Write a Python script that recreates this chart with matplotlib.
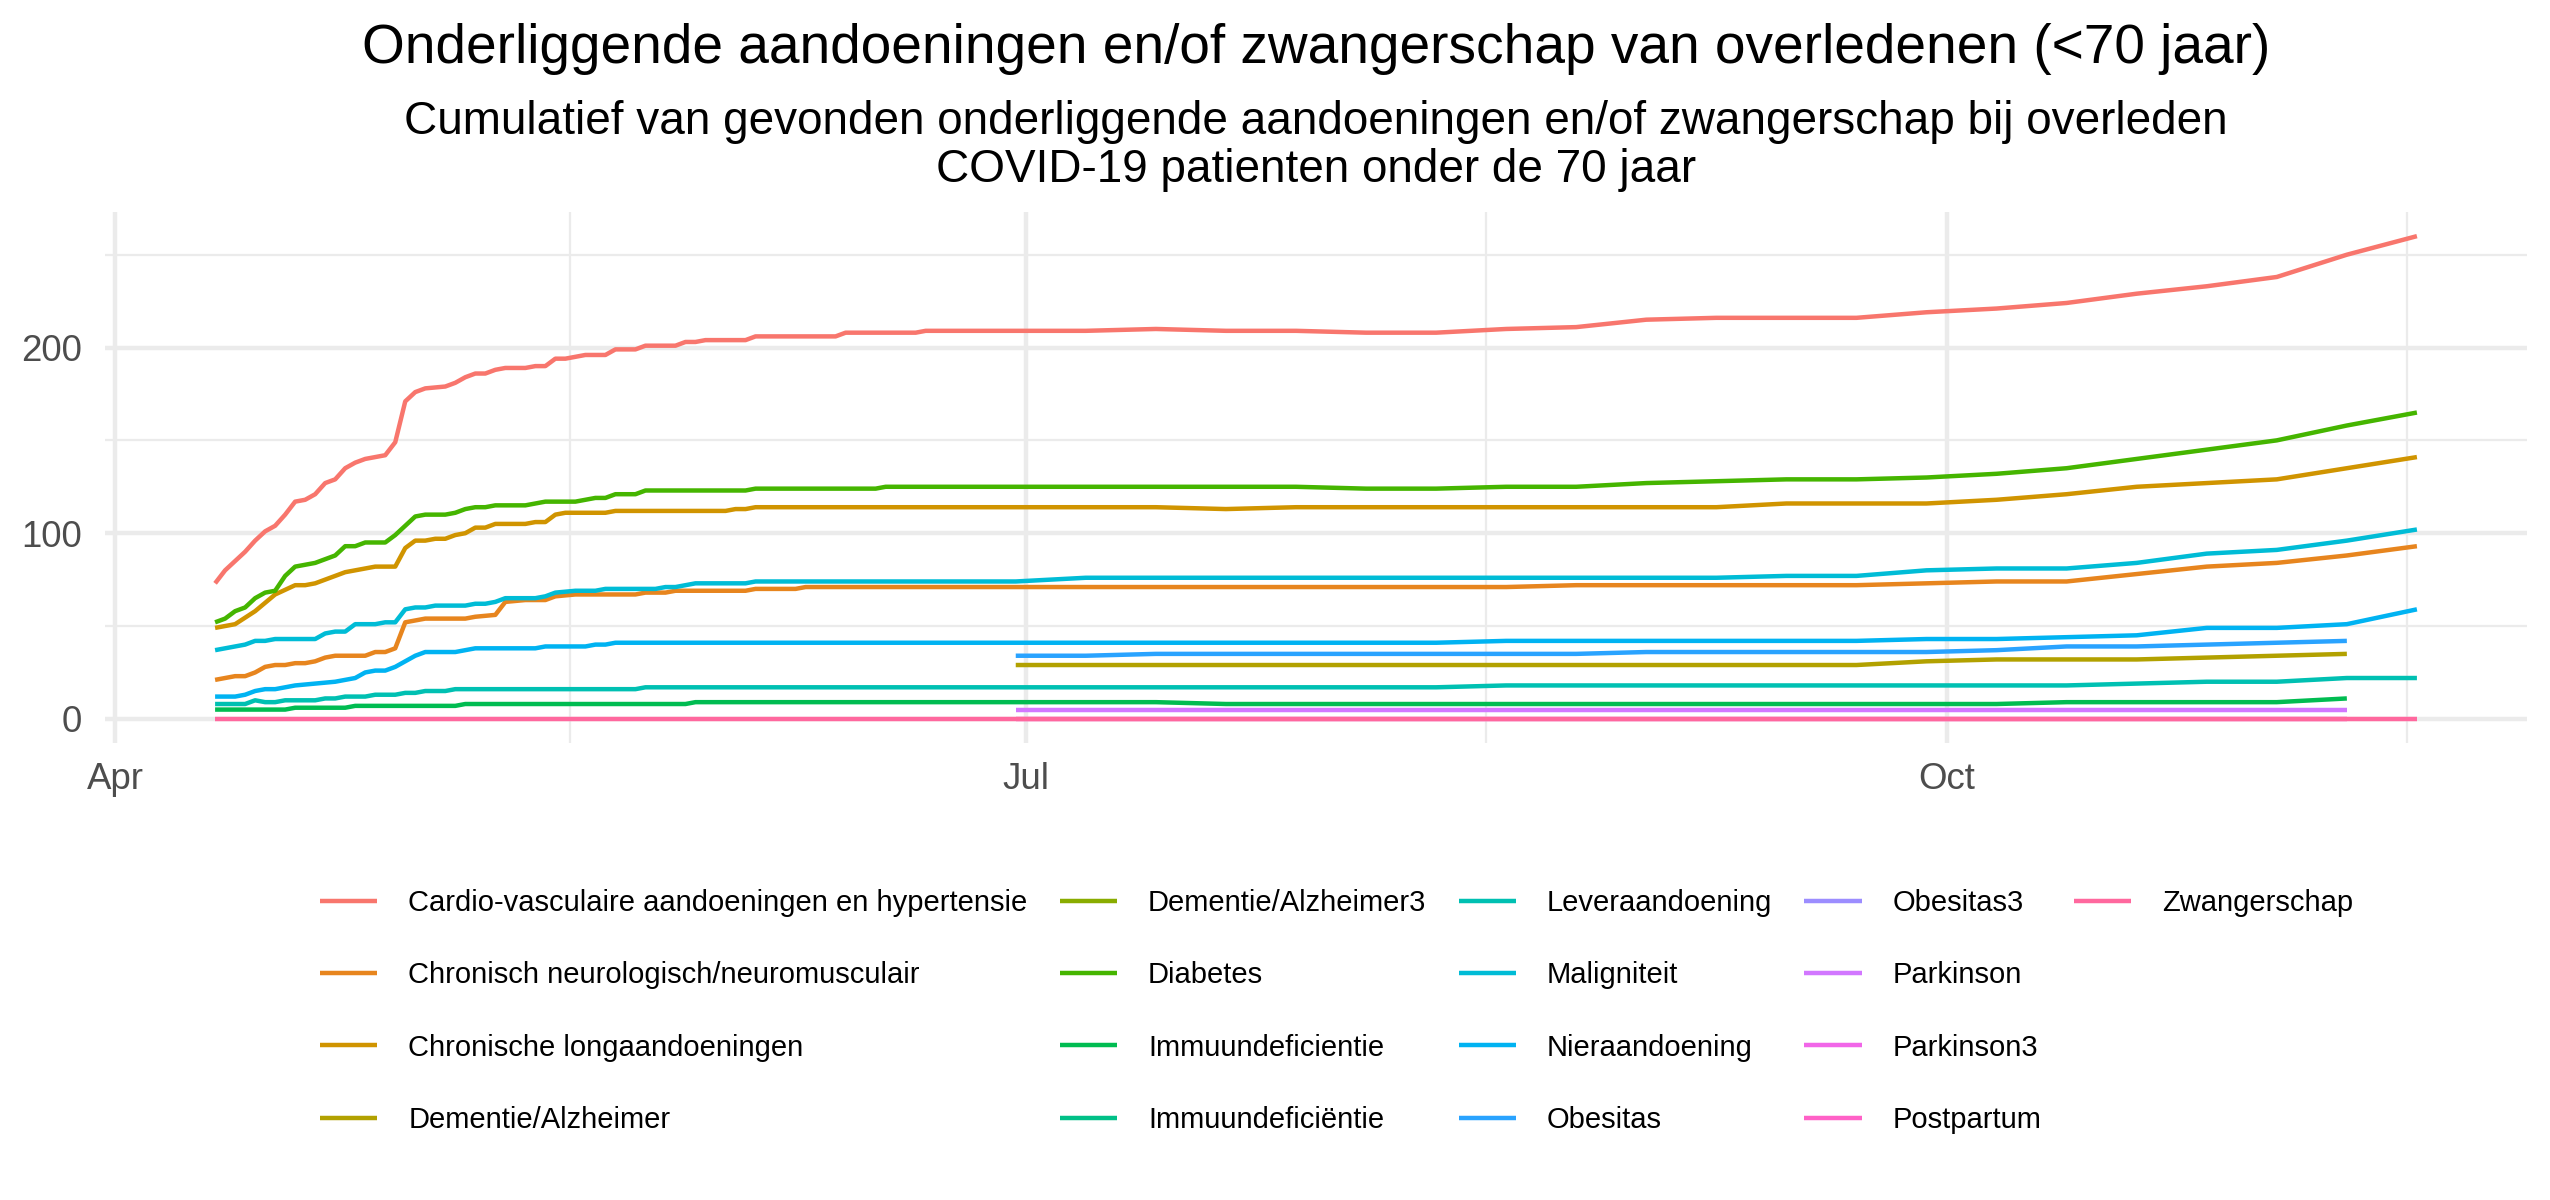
import numpy as np
import matplotlib
matplotlib.use("Agg")
import matplotlib.pyplot as plt
import matplotlib.dates as mdates
from matplotlib.lines import Line2D

plt.rcParams["font.family"] = ["Liberation Sans", "DejaVu Sans"]

TITLE = "Onderliggende aandoeningen en/of zwangerschap van overledenen (<70 jaar)"
SUBTITLE = ("Cumulatief van gevonden onderliggende aandoeningen en/of zwangerschap bij overleden\n"
            "COVID-19 patienten onder de 70 jaar")

# x values are days counted from 1 April 2020, y values cumulative counts
START = np.datetime64("2020-04-01")

cardio_days = [10, 11, 13, 14, 15, 16, 17, 18, 19, 20, 21, 22, 23, 24, 25, 27, 28, 29, 30, 31,
               33, 34, 35, 36, 37, 38, 39, 41, 42, 43, 44, 45, 47, 49, 50, 52, 53, 56, 57, 58,
               59, 63, 64, 72, 73, 77, 80, 81, 90, 97, 104, 111, 118, 125, 132, 139, 146, 153,
               160, 167, 174, 181, 188, 195, 202, 209, 216, 223, 230]
cardio_vals = [73, 80, 90, 96, 101, 104, 110, 117, 118, 121, 127, 129, 135, 138, 140, 142, 149, 171, 176, 178,
               179, 181, 184, 186, 186, 188, 189, 189, 190, 190, 194, 194, 196, 196, 199, 199, 201, 201, 203, 203,
               204, 204, 206, 206, 208, 208, 208, 209, 209, 209, 210, 209, 209, 208, 208, 210, 211, 215,
               216, 216, 216, 219, 221, 224, 229, 233, 238, 250, 260]

neuro_days = [10, 12, 13, 14, 15, 16, 17, 18, 19, 20, 21, 22, 25, 26, 27, 28, 29, 31, 35, 36,
              38, 39, 41, 43, 44, 46, 52, 53, 55, 56, 63, 64, 68, 69, 139, 146, 174, 181, 188, 195,
              202, 209, 216, 223, 230]
neuro_vals = [21, 23, 23, 25, 28, 29, 29, 30, 30, 31, 33, 34, 34, 36, 36, 38, 52, 54, 54, 55,
              56, 63, 64, 64, 66, 67, 67, 68, 68, 69, 69, 70, 70, 71, 71, 72, 72, 73, 74, 74,
              78, 82, 84, 88, 93]

long_days = [10, 12, 14, 16, 18, 19, 20, 22, 23, 24, 26, 28, 29, 30, 31, 32, 33, 34, 35, 36,
             37, 38, 41, 42, 43, 44, 45, 49, 50, 61, 62, 63, 64, 104, 111, 118, 160, 167, 181, 188,
             195, 202, 209, 216, 223, 230]
long_vals = [49, 51, 58, 67, 72, 72, 73, 77, 79, 80, 82, 82, 92, 96, 96, 97, 97, 99, 100, 103,
             103, 105, 105, 106, 106, 110, 111, 111, 112, 112, 113, 113, 114, 114, 113, 114, 114, 116, 116, 118,
             121, 125, 127, 129, 135, 141]

dementie_days = [90, 174, 181, 188, 202, 209, 216, 223]
dementie_vals = [29, 29, 31, 32, 32, 33, 34, 35]

dementie3_days = [230]
dementie3_vals = [36]

diabetes_days = [10, 11, 12, 13, 14, 15, 16, 17, 18, 20, 22, 23, 24, 25, 27, 28, 30, 31, 33, 34,
                 35, 36, 37, 38, 41, 43, 46, 47, 48, 49, 50, 52, 53, 63, 64, 76, 77, 90, 97, 104,
                 111, 118, 125, 132, 139, 146, 153, 160, 167, 174, 181, 188, 195, 202, 209, 216, 223, 230]
diabetes_vals = [52, 54, 58, 60, 65, 68, 69, 77, 82, 84, 88, 93, 93, 95, 95, 99, 109, 110, 110, 111,
                 113, 114, 114, 115, 115, 117, 117, 118, 119, 119, 121, 121, 123, 123, 124, 124, 125, 125, 125, 125,
                 125, 125, 124, 124, 125, 125, 127, 128, 129, 129, 130, 132, 135, 140, 145, 150, 158, 165]

immuun_days = [10, 17, 18, 23, 24, 34, 35, 57, 58, 104, 111, 188, 195, 216, 223]
immuun_vals = [5, 5, 6, 6, 7, 7, 8, 8, 9, 9, 8, 8, 9, 9, 11]

immuun2_days = [230]
immuun2_vals = [11]

lever_days = [10, 13, 14, 15, 16, 17, 20, 21, 22, 23, 25, 26, 28, 29, 30, 31, 33, 34, 52, 53,
              132, 139, 195, 202, 209, 216, 223, 230]
lever_vals = [8, 8, 10, 9, 9, 10, 10, 11, 11, 12, 12, 13, 13, 14, 14, 15, 15, 16, 16, 17,
              17, 18, 18, 19, 20, 20, 22, 22]

malig_days = [10, 13, 14, 15, 16, 20, 21, 22, 23, 24, 26, 27, 28, 29, 30, 31, 32, 35, 36, 37,
              38, 39, 42, 43, 44, 46, 48, 49, 54, 55, 56, 58, 63, 64, 90, 97, 160, 167, 174, 181,
              188, 195, 202, 209, 216, 223, 230]
malig_vals = [37, 40, 42, 42, 43, 43, 46, 47, 47, 51, 51, 52, 52, 59, 60, 60, 61, 61, 62, 62,
              63, 65, 65, 66, 68, 69, 69, 70, 70, 71, 71, 73, 73, 74, 74, 76, 76, 77, 77, 80,
              81, 81, 84, 89, 91, 96, 102]

nier_days = [10, 12, 13, 14, 15, 16, 17, 18, 20, 22, 23, 24, 25, 26, 27, 28, 29, 30, 31, 34,
             36, 42, 43, 47, 48, 49, 50, 132, 139, 174, 181, 188, 195, 202, 209, 216, 223, 230]
nier_vals = [12, 12, 13, 15, 16, 16, 17, 18, 19, 20, 21, 22, 25, 26, 26, 28, 31, 34, 36, 36,
             38, 38, 39, 39, 40, 40, 41, 41, 42, 42, 43, 43, 44, 45, 49, 49, 51, 59]

obesitas_days = [90, 97, 104, 146, 153, 181, 188, 195, 202, 209, 216, 223]
obesitas_vals = [34, 34, 35, 35, 36, 36, 37, 39, 39, 40, 41, 42]

obesitas3_days = [230]
obesitas3_vals = [43]

parkinson_days = [90, 223]
parkinson_vals = [5, 5]

parkinson3_days = [230]
parkinson3_vals = [5]

postpartum_days = [90, 223]
postpartum_vals = [0, 0]

zwanger_days = [10, 230]
zwanger_vals = [0, 0]

SERIES = [
    ("Cardio-vasculaire aandoeningen en hypertensie", cardio_days, cardio_vals),
    ("Chronisch neurologisch/neuromusculair", neuro_days, neuro_vals),
    ("Chronische longaandoeningen", long_days, long_vals),
    ("Dementie/Alzheimer", dementie_days, dementie_vals),
    ("Dementie/Alzheimer3", dementie3_days, dementie3_vals),
    ("Diabetes", diabetes_days, diabetes_vals),
    ("Immuundeficientie", immuun_days, immuun_vals),
    ("Immuundeficiëntie", immuun2_days, immuun2_vals),
    ("Leveraandoening", lever_days, lever_vals),
    ("Maligniteit", malig_days, malig_vals),
    ("Nieraandoening", nier_days, nier_vals),
    ("Obesitas", obesitas_days, obesitas_vals),
    ("Obesitas3", obesitas3_days, obesitas3_vals),
    ("Parkinson", parkinson_days, parkinson_vals),
    ("Parkinson3", parkinson3_days, parkinson3_vals),
    ("Postpartum", postpartum_days, postpartum_vals),
    ("Zwangerschap", zwanger_days, zwanger_vals),
]


def hue_pal(n, h_start=15.0, c=100.0, l=65.0):
    """ggplot2-style evenly spaced HCL hues -> sRGB."""
    m = np.array([[3.2404542, -1.5371385, -0.4985314],
                  [-0.9692660, 1.8760108, 0.0415560],
                  [0.0556434, -0.2040259, 1.0572252]])
    cols = []
    for i in range(n):
        h = np.radians((h_start + 360.0 * i / n) % 360)
        u, v = c * np.cos(h), c * np.sin(h)
        y = 100.0 * ((l + 16.0) / 116.0) ** 3
        up = u / (13.0 * l) + 0.1978398
        vp = v / (13.0 * l) + 0.4683363
        x = 9.0 * y * up / (4.0 * vp)
        z = y * (12.0 - 3.0 * up - 20.0 * vp) / (4.0 * vp)
        rgb = m @ (np.array([x, y, z]) / 100.0)
        rgb = np.where(rgb <= 0.0031308, 12.92 * rgb,
                       1.055 * np.abs(rgb) ** (1 / 2.4) - 0.055)
        cols.append(tuple(np.clip(rgb, 0, 1)))
    return cols


W, H = 2550, 1200
LW = 1.07
GRID = "#EBEBEB"
colors = hue_pal(len(SERIES))

fig = plt.figure(figsize=(W / 300, H / 300), dpi=300)
ax = fig.add_axes([105 / W, 1 - 743 / H, (2527 - 105) / W, (743 - 212) / H])

handles = []
for (name, days, vals), col in zip(SERIES, colors):
    dates = START + np.array(days, dtype="timedelta64[D]")
    ax.plot(dates, vals, color=col, lw=LW, solid_capstyle="butt",
            solid_joinstyle="round", zorder=3)
    handles.append(Line2D([], [], color=col, lw=LW, solid_capstyle="butt"))

# limits: data range + 5% on each side (ggplot default expansion)
all_days = np.concatenate([d for _, d, _ in SERIES])
all_vals = np.concatenate([v for _, _, v in SERIES])
t0 = mdates.date2num(START)
dpad = 0.05 * (all_days.max() - all_days.min())
ax.set_xlim(t0 + all_days.min() - dpad, t0 + all_days.max() + dpad)
vpad = 0.05 * (all_vals.max() - all_vals.min())
ax.set_ylim(all_vals.min() - vpad, all_vals.max() + vpad)

# quarter starts as major breaks, midpoints as minor breaks
quarters = [mdates.date2num(np.datetime64(d)) for d in
            ("2020-04-01", "2020-07-01", "2020-10-01", "2021-01-01")]
ax.xaxis.set_major_locator(mdates.MonthLocator(bymonth=[1, 4, 7, 10]))
ax.xaxis.set_major_formatter(mdates.DateFormatter("%b"))
ax.xaxis.set_minor_locator(plt.FixedLocator(
    [(a + b) / 2 for a, b in zip(quarters[:-1], quarters[1:])]))
ax.set_yticks([0, 100, 200])
ax.set_yticks([50, 150, 250], minor=True)

ax.grid(which="major", color=GRID, lw=LW, zorder=0)
ax.grid(which="minor", color=GRID, lw=LW / 2, zorder=0)
ax.set_axisbelow(True)
for s in ax.spines.values():
    s.set_visible(False)
ax.tick_params(which="both", length=0, labelsize=8.8, labelcolor="#4D4D4D")
ax.tick_params(axis="y", pad=5.5)
ax.tick_params(axis="x", pad=4.5)

cx = (105 + 2527) / 2 / W
fig.text(cx, 1 - 63 / H, TITLE, ha="center", va="baseline", fontsize=13.2)
fig.text(cx, 1 - 100 / H, SUBTITLE, ha="center", va="top", fontsize=11,
         linespacing=1.12)

# ggplot fills the legend column-wise 4,4,4,4,1: pad with empty slots
labels = [s[0] for s in SERIES]
n_rows = 4
n_pad = 5 * n_rows - len(labels)
leg_handles = handles + [Line2D([], [], alpha=0)] * n_pad
leg_labels = labels + [""] * n_pad
fig.legend(leg_handles, leg_labels, loc="upper left",
           bbox_to_anchor=(320 / W, 1 - 889 / H), ncol=5, frameon=False,
           fontsize=7, handlelength=1.97, handletextpad=1.06,
           columnspacing=1.1, labelspacing=1.52, borderpad=0, borderaxespad=0)

fig.savefig("out.png", dpi=300, facecolor="white")
